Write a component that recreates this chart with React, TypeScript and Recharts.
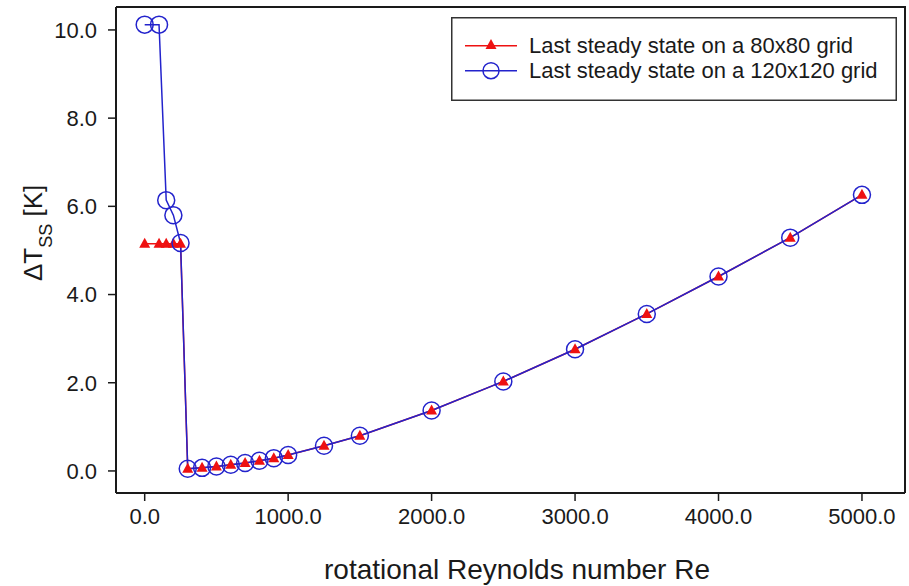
import { Legend, Line, LineChart, XAxis, YAxis } from "recharts";

// rotational Reynolds number (x)
const reynolds = [
  0, 100, 150, 200, 250, 300, 400, 500, 600, 700, 800, 900, 1000, 1250, 1500,
  2000, 2500, 3000, 3500, 4000, 4500, 5000,
];

// ΔT_SS [K] on the 80x80 grid
const grid80 = [
  5.15, 5.15, 5.15, 5.15, 5.15, 0.05, 0.07, 0.1, 0.14, 0.18, 0.23, 0.29, 0.36,
  0.57, 0.8, 1.37, 2.03, 2.76, 3.56, 4.41, 5.29, 6.26,
];

// ΔT_SS [K] on the 120x120 grid
const grid120 = [
  10.12, 10.12, 6.14, 5.8, 5.17, 0.05, 0.07, 0.1, 0.14, 0.18, 0.23, 0.29, 0.36,
  0.57, 0.8, 1.37, 2.03, 2.76, 3.56, 4.41, 5.29, 6.26,
];

const xTicks = [0, 1000, 2000, 3000, 4000, 5000];
const yTicks = [0, 2, 4, 6, 8, 10];

const seriesLabels = [
  "Last steady state on a 80x80 grid",
  "Last steady state on a 120x120 grid",
];

const data = reynolds.map((re, i) => ({ re, g80: grid80[i], g120: grid120[i] }));

const FONT = '"Liberation Sans", Arial, sans-serif';
const RED = "#ee1111";
const BLUE = "#2323cc";
const INK = "#1a1a1a";

const X_DOMAIN = [-200, 5300];
const Y_DOMAIN = [-0.5, 10.52];
const MARGIN = { top: 7, right: 4, bottom: 0, left: 0 };
const CHART_W = 909;
const CHART_H = 586;
const Y_AXIS_W = 116;
const X_AXIS_H = 93;

function triPath(cx: number, cy: number) {
  return `M${cx},${cy - 6} L${cx + 5.5},${cy + 4} L${cx - 5.5},${cy + 4} Z`;
}

function TriangleDot(props: any) {
  const { cx, cy, index } = props;
  if (cx == null || cy == null) return <g key={`tri-${index}`} />;
  return <path key={`tri-${index}`} d={triPath(cx, cy)} fill={RED} />;
}

function YLabel() {
  return (
    <text
      x={42}
      y={281}
      transform="rotate(-90, 42, 281)"
      fontFamily={FONT}
      fontSize={26}
      fill={INK}
    >
      ΔT
      <tspan fontSize={18} dy={10}>
        SS
      </tspan>
      <tspan dy={-10}> [K]</tspan>
    </text>
  );
}

const num = (v: any, fallback: number) => (Number.isFinite(Number(v)) ? Number(v) : fallback);

// x-axis title, plus the top and right edges of the plot frame
function XLabel(props: any) {
  const vb = props && props.viewBox ? props.viewBox : {};
  const left = num(vb.x, MARGIN.left + Y_AXIS_W);
  const right = left + num(vb.width, CHART_W - MARGIN.left - MARGIN.right - Y_AXIS_W);
  const bottom = num(vb.y, CHART_H - MARGIN.bottom - X_AXIS_H);
  return (
    <g>
      <path
        d={`M${left},${MARGIN.top} H${right} V${bottom}`}
        fill="none"
        stroke={INK}
        strokeWidth={2}
      />
      <text
        x={517}
        y={579}
        textAnchor="middle"
        fontFamily={FONT}
        fontSize={28}
        fill={INK}
      >
        rotational Reynolds number Re
      </text>
    </g>
  );
}

function LegendBox() {
  return (
    <svg width={446} height={84} style={{ display: "block" }}>
      <rect x={0.75} y={0.75} width={444.5} height={82.5} fill="#fff" stroke="#333" strokeWidth={1.5} />
      <line x1={14} x2={66} y1={28.7} y2={28.7} stroke={RED} strokeWidth={1.5} />
      <path d={triPath(40, 28)} fill={RED} />
      <text x={78} y={35.7} fontFamily={FONT} fontSize={22} fill={INK}>
        {seriesLabels[0]}
      </text>
      <line x1={14} x2={66} y1={53.7} y2={53.7} stroke={BLUE} strokeWidth={1.5} />
      <circle cx={40} cy={53.7} r={8} fill="none" stroke={BLUE} strokeWidth={1.5} />
      <text x={78} y={61.3} fontFamily={FONT} fontSize={22} fill={INK}>
        {seriesLabels[1]}
      </text>
    </svg>
  );
}

const tickStyle = { fill: INK, fontSize: 22, fontFamily: FONT };
const axisLineStyle = { stroke: INK, strokeWidth: 2 };
const tickLineStyle = { stroke: INK, strokeWidth: 1.5 };

export default function App() {
  return (
    <div style={{ width: CHART_W, height: CHART_H, background: "#fff" }}>
      <style>{"body{margin:0}"}</style>
      <LineChart width={CHART_W} height={CHART_H} data={data} margin={MARGIN}>
        <XAxis
          dataKey="re"
          type="number"
          domain={X_DOMAIN}
          allowDataOverflow
          ticks={xTicks}
          tickFormatter={(v: number) => v.toFixed(1)}
          tick={tickStyle}
          tickSize={8}
          tickMargin={7}
          tickLine={tickLineStyle}
          axisLine={axisLineStyle}
          height={X_AXIS_H}
          label={<XLabel />}
        />
        <YAxis
          type="number"
          domain={Y_DOMAIN}
          allowDataOverflow
          ticks={yTicks}
          tickFormatter={(v: number) => v.toFixed(1)}
          tick={tickStyle}
          tickSize={8}
          tickMargin={11}
          tickLine={tickLineStyle}
          axisLine={axisLineStyle}
          width={Y_AXIS_W}
          label={<YLabel />}
        />
        <Legend
          layout="vertical"
          align="center"
          verticalAlign="middle"
          wrapperStyle={{ position: "absolute", left: 451, top: 17, width: 446, height: 84 }}
          content={() => <LegendBox />}
        />
        <Line
          type="linear"
          dataKey="g80"
          name={seriesLabels[0]}
          stroke={RED}
          strokeWidth={1.5}
          dot={TriangleDot}
          activeDot={false}
          isAnimationActive={false}
        />
        <Line
          type="linear"
          dataKey="g120"
          name={seriesLabels[1]}
          stroke={BLUE}
          strokeWidth={1.5}
          dot={{ r: 8.5, fill: "none", stroke: BLUE, strokeWidth: 1.5 }}
          activeDot={false}
          isAnimationActive={false}
        />
      </LineChart>
    </div>
  );
}
